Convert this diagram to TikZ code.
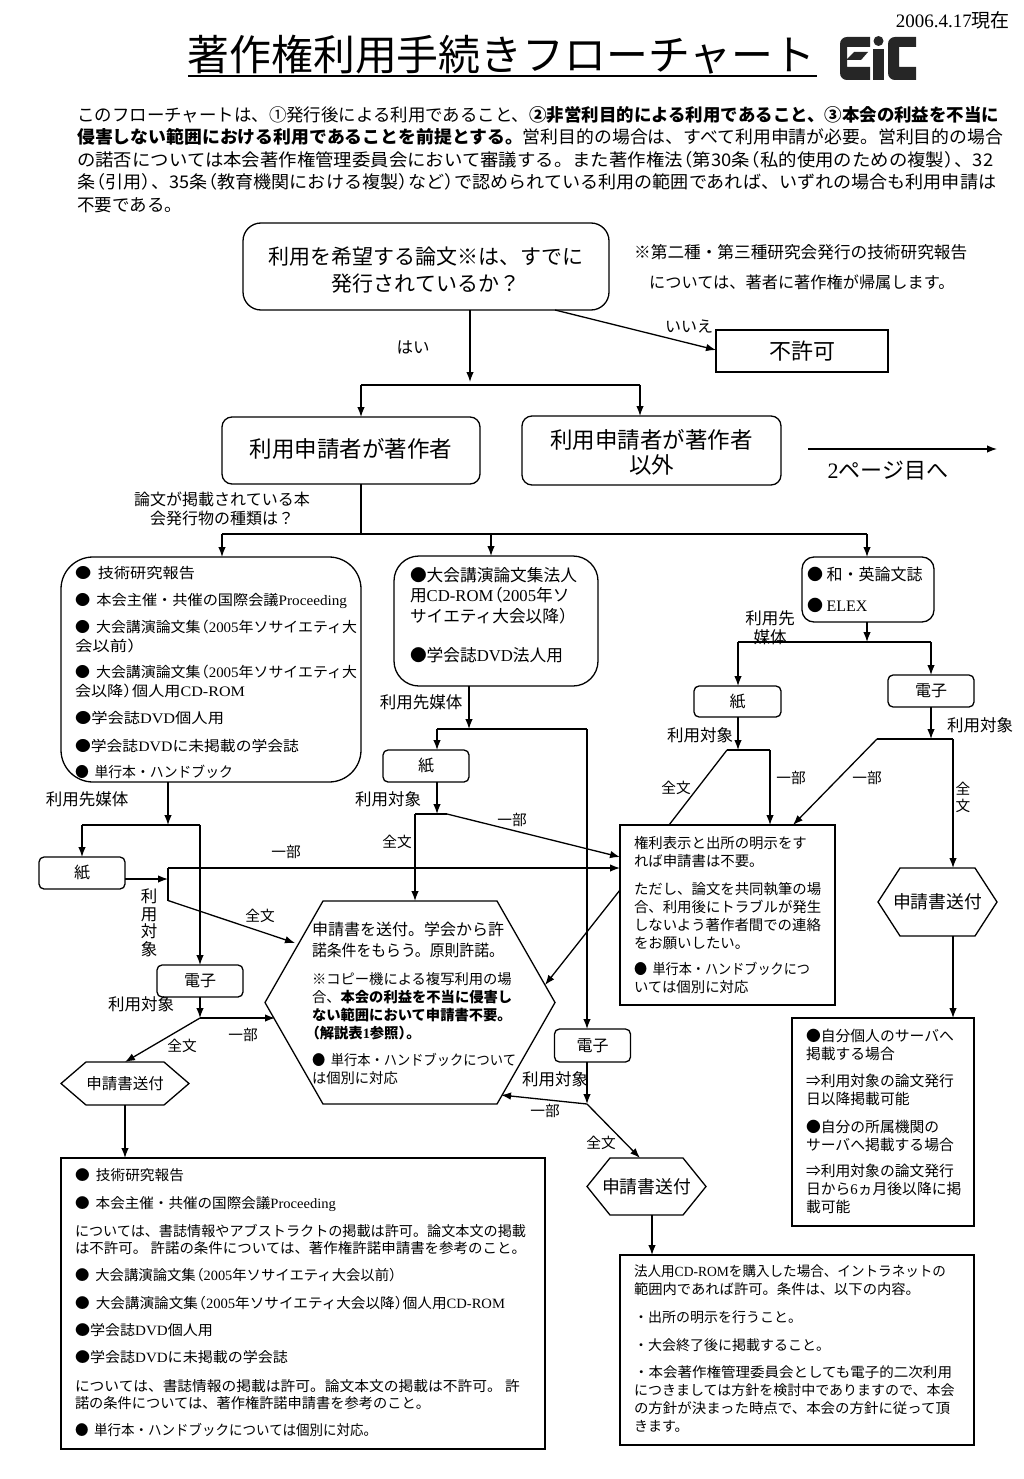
\documentclass[tikz,border=0pt]{standalone}
\usepackage{fontspec}
\setmainfont{Noto Sans CJK JP}
\newfontfamily\tm{Liberation Serif}
\usetikzlibrary{arrows.meta,calc}
\newcommand{\fs}[2]{\fontsize{#1}{#2}\selectfont}
% text block: width, height, first baseline from the top
\newcommand{\bt}[4]{\parbox[c][#2pt][t]{#1pt}{\lineskiplimit=-60pt\raggedright\rule{0pt}{#3pt}#4}}
\newcommand{\bc}[4]{\parbox[c][#2pt][t]{#1pt}{\lineskiplimit=-60pt\centering\rule{0pt}{#3pt}#4}}
\newcommand{\fw}[2]{\resizebox{#1pt}{\height}{#2}}
\newcommand{\lp}{\kern-0.45em（}
\newcommand{\rp}{）\kern-0.45em}
\newcommand{\bul}{●\hspace{6pt}}
\newcommand{\hexon}[2]{\draw[ln] ($(#1.north west)+(#2,0)$) -- ($(#1.north east)+(-#2,0)$) -- (#1.east) -- ($(#1.south east)+(-#2,0)$) -- ($(#1.south west)+(#2,0)$) -- (#1.west) -- cycle;}
\tikzset{
 ln/.style={line width=1.3pt,line join=miter},
 arr/.style={ln,-{Latex[length=10pt,width=7.5pt]}},
 plainbox/.style={draw,line width=1.1pt,inner ysep=0pt,outer sep=0pt,anchor=north west},
 softbox/.style={plainbox,line width=1.3pt,rounded corners=#1},
 tinybox/.style={draw,line width=1.3pt,rounded corners=5pt,outer sep=0pt,inner sep=0pt,font=\fs{16}{18}},
 hexbox/.style={inner sep=0pt,outer sep=0pt,font=\fs{15.5}{18}},
 labL/.style={inner sep=0pt,align=center,font=\fs{16.5}{19}},
 labS/.style={inner sep=0pt,align=center,font=\fs{14.7}{18}},
}
\begin{document}
\begin{tikzpicture}[x=1pt,y=-1pt]
\useasboundingbox (0,0) rectangle (1024,1479);
% header
\node[anchor=east,inner sep=0pt,font=\fs{19}{22}] (date) at (1010,20) {{\tm 2006.4.17}現在};
\node[inner sep=0pt,font=\fs{41.9}{44}] (title) at (501.5,55) {著作権利用手続きフローチャート};
\coordinate (ul) at (188,76); \coordinate (ur) at (817,76);
\draw[line width=2pt] (ul) -- (ur);
% logo
\fill[black!85] (870,37) -- (847,37) .. controls (843,37) and (840,40) .. (840,44) -- (840,73) .. controls (840,77) and (843,80) .. (847,80) -- (870,80) -- (870,67) -- (847,67) -- (847,47) -- (870,47) -- cycle;
\fill[black!85] (854,52) -- (868,52) -- (861,60) -- (846,60) -- cycle;
\fill[black!85] (873,49) rectangle (884,80);
\fill[black!85] (878.5,41) circle[radius=5];
\fill[black!85] (916,37) -- (895,37) .. controls (891,37) and (888,40) .. (888,44) -- (888,73) .. controls (888,77) and (891,80) .. (895,80) -- (916,80) -- (916,67) -- (899,67) -- (899,47) -- (916,47) -- cycle;
% intro
\node[anchor=north west,inner sep=0pt,font=\fs{17.5}{22.6}] (intro) at (77,100) {\bt{940}{115}{21}{%
\fw{922}{このフローチャートは、①発行後による利用であること、\textbf{②非営利目的による利用であること、③本会の利益を不当に}}\\
\fw{926}{\textbf{侵害しない範囲における利用であることを前提とする。}営利目的の場合は、すべて利用申請が必要。営利目的の場合}\\
\fw{916}{の諾否については本会著作権管理委員会において審議する。また著作権法\lp 第30条\lp 私的使用のための複製\rp 、32}\\
\fw{919}{条\lp 引用\rp 、35条\lp 教育機関における複製\rp など\rp で認められている利用の範囲であれば、いずれの場合も利用申請は}\\
不要である。}};
% top question
\node[softbox=18pt,inner xsep=0pt,font=\fs{21}{27}] (q) at (243,223) {\bc{366}{87}{41}{利用を希望する論文※は、すでに\\発行されているか？}};
\node[anchor=west,inner sep=0pt,font=\fs{16.65}{18}] (note1) at (634,252) {※第二種・第三種研究会発行の技術研究報告};
\node[anchor=west,inner sep=0pt,font=\fs{16.2}{18}] (note2) at (649,282) {については、著者に著作権が帰属します。};
\node[draw,line width=1.1pt,outer sep=0pt,minimum width=172pt,minimum height=42pt,inner sep=0pt,font=\fs{22}{24}] (no) at (802,351) {不許可};
\node[softbox=10pt,inner xsep=0pt,font=\fs{22.5}{25}] (self) at (222,417) {\bc{258}{67}{40}{利用申請者が著作者}};
\node[softbox=10pt,inner xsep=0pt,font=\fs{22.5}{25}] (other) at (522,416) {\bc{259}{69}{32}{利用申請者が著作者\\以外}};
\node[inner sep=0pt,font=\fs{22}{24}] (next) at (888,471) {{\tm 2}ページ目へ};
\node[labS,font=\fs{16.5}{18}] (lYes) at (413,347) {はい};
\node[labS,font=\fs{16}{18}] (lNo) at (689,327) {いいえ};
\node[inner sep=0pt,align=center,font=\fs{16}{19}] (lKind) at (222,509) {論文が掲載されている本\\会発行物の種類は？};
% three kinds
\node[softbox=32pt,inner xsep=14pt,font=\fs{14.5}{19}] (A) at (61,557) {\bt{272}{225}{21}{%
\fw{120}{\bul 技術研究報告}\\[8pt]
\fw{272}{\bul 本会主催・共催の国際会議{\tm Proceeding}}\\[8pt]
\fw{282}{\bul 大会講演論文集\lp{\tm 2005}年ソサイエティ大}\\
\fw{62}{会以前\rp}\\[7pt]
\fw{282}{\bul 大会講演論文集\lp{\tm 2005}年ソサイエティ大}\\
\fw{170}{会以降\rp 個人用{\tm CD-ROM}}\\[8pt]
\fw{149}{●学会誌{\tm DVD}個人用}\\[9pt]
\fw{224}{●学会誌{\tm DVD}に未掲載の学会誌}\\[7pt]
\fw{158}{\bul 単行本・ハンドブック}}};
\node[softbox=25pt,inner xsep=16pt,font=\fs{16.7}{20.5}] (B) at (394,556) {\bt{172}{130}{25}{%
●大会講演論文集法人\\
用{\tm CD-ROM}\lp{\tm 2005}年ソ\\
サイエティ大会以降\rp\\[18.5pt]
●学会誌{\tm DVD}法人用}};
\node[softbox=12pt,inner xsep=5pt,font=\fs{16}{31}] (C) at (802,557) {\bt{122}{65}{23}{●~和・英論文誌\\●~{\tm ELEX}}};
% media boxes
\node[tinybox,minimum width=86pt,minimum height=32pt] (pA) at (82,873) {紙};
\node[tinybox,minimum width=86pt,minimum height=32pt] (eA) at (200,981) {電子};
\node[tinybox,minimum width=86pt,minimum height=32pt] (pB) at (426,766) {紙};
\node[tinybox,minimum width=76pt,minimum height=33pt] (eB) at (592.5,1045.5) {電子};
\node[tinybox,minimum width=87pt,minimum height=31pt] (pC) at (737.5,701.5) {紙};
\node[tinybox,minimum width=86pt,minimum height=32pt] (eC) at (931,691) {電子};
% hexagons
\node[hexbox,minimum width=128pt,minimum height=43pt] (sA) at (125,1083.5) {申請書送付};
\hexon{sA}{25}
\node[hexbox,font=\fs{17.8}{18},minimum width=119pt,minimum height=57pt] (sB) at (646.5,1186.5) {申請書送付};
\hexon{sB}{23}
\node[hexbox,font=\fs{17.8}{18},minimum width=119pt,minimum height=68pt] (sC) at (937.5,902) {申請書送付};
\hexon{sC}{22}
\node[inner xsep=47pt,inner ysep=0pt,outer sep=0pt,anchor=north west,font=\fs{14.3}{18}] (big) at (265,901) {\bt{196}{203}{34}{%
{\fs{16}{18}申請書を送付。学会から許}\\[3pt]
\fw{192}{\fs{16}{18}諾条件をもらう。原則許諾。}\\[10pt]
※コピー機による複写利用の場\\
合、\textbf{本会の利益を不当に侵害し}\\
\textbf{ない範囲において申請書不要。}\\
\textbf{\lp 解説表{\tm 1}参照\rp 。}\\[9pt]
\fw{204}{\bul 単行本・ハンドブックについて}\\
は個別に対応}};
\hexon{big}{58}
% result boxes
\node[plainbox,inner xsep=14pt,font=\fs{14.4}{18}] (perm) at (620,825) {\bt{187}{180}{23}{%
権利表示と出所の明示をす\\
れば申請書は不要。\\[10pt]
ただし、論文を共同執筆の場\\
合、利用後にトラブルが発生\\
しないよう著作者間での連絡\\
をお願いしたい。\\[8pt]
\fw{176}{\bul 単行本・ハンドブックにつ}\\
いては個別に対応}};
\node[plainbox,inner xsep=14pt,font=\fs{14.8}{18}] (rC) at (792,1018) {\bt{154}{208}{23}{%
●自分個人のサーバへ\\
掲載する場合\\[9pt]
⇒利用対象の論文発行\\
日以降掲載可能\\[10pt]
●自分の所属機関の\\
サーバへ掲載する場合\\[8pt]
⇒利用対象の論文発行\\
日から{\tm 6}ヵ月後以降に掲\\
載可能}};
\node[plainbox,inner xsep=14pt,font=\fs{14.2}{17}] (rA) at (61,1158) {\bt{456}{291}{22}{%
\fw{109}{\bul 技術研究報告}\\[11pt]
\fw{261}{\bul 本会主催・共催の国際会議{\tm Proceeding}}\\[11pt]
\fw{451}{については、書誌情報やアブストラクトの掲載は許可。論文本文の掲載}\\
\fw{451}{は不許可。~許諾の条件については、著作権許諾申請書を参考のこと。}\\[10pt]
\fw{322}{\bul 大会講演論文集\lp{\tm 2005}年ソサイエティ大会以前\rp}\\[11pt]
\fw{430}{\bul 大会講演論文集\lp{\tm 2005}年ソサイエティ大会以降\rp 個人用{\tm CD-ROM}}\\[10pt]
\fw{138}{●学会誌{\tm DVD}個人用}\\[10pt]
\fw{213}{●学会誌{\tm DVD}に未掲載の学会誌}\\[12pt]
\fw{445}{については、書誌情報の掲載は許可。論文本文の掲載は不許可。~許}\\
\fw{355}{諾の条件については、著作権許諾申請書を参考のこと。}\\[10pt]
\fw{302}{\bul 単行本・ハンドブックについては個別に対応。}}};
\node[plainbox,inner xsep=14pt,font=\fs{14}{18}] (rB) at (620,1255) {\bt{326}{190}{21}{%
\fw{312}{法人用{\tm CD-ROM}を購入した場合、イントラネットの}\\
\fw{286}{範囲内であれば許可。条件は、以下の内容。}\\[10pt]
・出所の明示を行うこと。\\[10pt]
・大会終了後に掲載すること。\\[9pt]
\fw{318}{・本会著作権管理委員会としても電子的二次利用}\\
につきましては方針を検討中でありますので、本会\\
\fw{316}{の方針が決まった時点で、本会の方針に従って頂}\\
きます。}};
% labels
\node[labL] (m1) at (87,799) {利用先媒体};
\node[labL] (m2) at (421,702) {利用先媒体};
\node[labL] (m3) at (770,628) {利用先\\媒体};
\node[labL,font=\fs{16.5}{17.5}] (u1) at (149,923) {利\\用\\対\\象};
\node[labL] (u2) at (141,1004) {利用対象};
\node[labL] (u3) at (388,799) {利用対象};
\node[labL] (u4) at (555,1079) {利用対象};
\node[labL] (u5) at (700,735) {利用対象};
\node[labL] (u6) at (980,725) {利用対象};
\node[labS] (p1) at (286,852) {一部};
\node[labS] (p2) at (243,1035) {一部};
\node[labS] (p3) at (512,820) {一部};
\node[labS] (p4) at (545,1111) {一部};
\node[labS] (p5) at (791,778) {一部};
\node[labS] (p6) at (867,778) {一部};
\node[labS] (f1) at (260,916) {全文};
\node[labS] (f2) at (182,1046) {全文};
\node[labS] (f3) at (397,842) {全文};
\node[labS] (f4) at (601,1143) {全文};
\node[labS] (f5) at (676,788) {全文};
\node[labS,font=\fs{14.7}{17}] (f6) at (963,797.5) {全\\文};
% junctions
\coordinate (jq) at (470,382); \coordinate (jqs) at (470,310);
\coordinate (jq1) at (361,385); \coordinate (jq2) at (640,385);
\coordinate (qno) at (555,310); \coordinate (nop) at (716,350);
\coordinate (js) at (361,534); \coordinate (jsA) at (222,534); \coordinate (jsB) at (491,534); \coordinate (jsC) at (867,534);
\coordinate (ja) at (168,825); \coordinate (jaP) at (82,825); \coordinate (jaE) at (200,825);
\coordinate (jpa) at (168,879); \coordinate (jpaT) at (168,868); \coordinate (jpaB) at (168,900.5);
\coordinate (bigFA) at (295,943);
\coordinate (jea) at (200,1018); \coordinate (bigPA) at (275,1018);
\coordinate (jb) at (469,729); \coordinate (jbP) at (437,729); \coordinate (jbE) at (587,729);
\coordinate (jpb) at (437,814); \coordinate (jpbL) at (415,814); \coordinate (jpbR) at (447,814);
\coordinate (permB) at (620,857);
\coordinate (permO) at (620,890); \coordinate (bigR) at (545,985);
\coordinate (jeb) at (587,1104); \coordinate (bigE) at (501,1095); \coordinate (sBt) at (640,1158);
\coordinate (sBo) at (652,1215); \coordinate (rBi) at (652,1255);
\coordinate (jc) at (867,642); \coordinate (jcP) at (738,642); \coordinate (jcE) at (931,642);
\coordinate (jpc) at (738,750); \coordinate (jpcL) at (727,750); \coordinate (jpcR) at (770,750); \coordinate (permL) at (669,825);
\coordinate (jec) at (931,739); \coordinate (jecL) at (877,739); \coordinate (jecR) at (953,739); \coordinate (permE) at (793,825);
\coordinate (otherOut) at (808,449); \coordinate (page2) at (997,449);
% connectors
\draw[arr] (jqs) -- (jq);
\draw[ln] (jq1) -- (jq2);
\draw[arr] (jq1) -- (jq1 |- self.north);
\draw[arr] (jq2) -- (jq2 |- other.north);
\draw[arr] (qno) -- (nop);
\draw[arr] (otherOut) -- (page2);
\draw[ln] (js |- self.south) -- (js);
\draw[ln] (jsA) -- (jsC);
\draw[arr] (jsA) -- (jsA |- A.north);
\draw[arr] (jsB) -- (jsB |- B.north);
\draw[arr] (jsC) -- (jsC |- C.north);
% column A
\draw[arr] (ja |- A.south) -- (ja);
\draw[ln] (jaP) -- (jaE);
\draw[arr] (jaP) -- (pA.north);
\draw[arr] (jaE) -- (eA.north);
\draw[arr] (jpa -| pA.east) -- (jpa);
\draw[ln] (jpaT) -- (jpaB);
\draw[arr] (jpaT) -- (jpaT -| perm.west);
\draw[arr] (jpaB) -- (bigFA);
\draw[arr] (eA.south) -- (jea);
\draw[arr] (jea) -- (bigPA);
\draw[arr] (jea) -- (sA.north);
\draw[arr] (sA.south) -- (rA.north -| sA.south);
% column B
\draw[arr] (jb |- B.south) -- (jb);
\draw[ln] (jbP) -- (jbE);
\draw[arr] (jbP) -- (jbP |- pB.north);
\draw[arr] (jbE) -- (jbE |- eB.north);
\draw[arr] (jpb |- pB.south) -- (jpb);
\draw[ln] (jpbL) -- (jpbR);
\draw[arr] (jpbL) -- (jpbL |- big.north);
\draw[arr] (jpbR) -- (permB);
\draw[arr] (permO) -- (bigR);
\draw[arr] (jeb |- eB.south) -- (jeb);
\draw[arr] (jeb) -- (bigE);
\draw[arr] (jeb) -- (sBt);
\draw[arr] (sBo) -- (rBi);
% column C
\draw[arr] (jc |- C.south) -- (jc);
\draw[ln] (jcP) -- (jcE);
\draw[arr] (jcP) -- (jcP |- pC.north);
\draw[arr] (jcE) -- (eC.north);
\draw[arr] (jpc |- pC.south) -- (jpc);
\draw[ln] (jpcL) -- (jpcR);
\draw[ln] (jpcL) -- (permL);
\draw[arr] (jpcR) -- (jpcR |- perm.north);
\draw[arr] (jec |- eC.south) -- (jec);
\draw[ln] (jecL) -- (jecR);
\draw[arr] (jecL) -- (permE);
\draw[arr] (jecR) -- (jecR |- sC.north);
\draw[arr] (jecR |- sC.south) -- (jecR |- rC.north);
\end{tikzpicture}
\end{document}
